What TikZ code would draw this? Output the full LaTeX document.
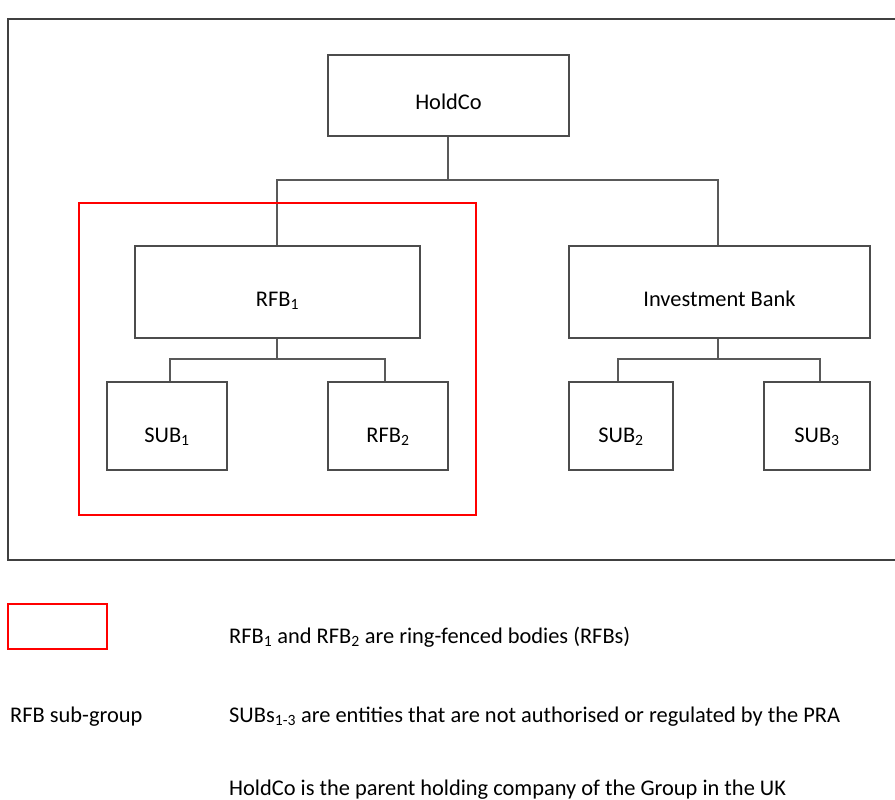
\documentclass[tikz,border=0pt]{standalone}
\usepackage{fontspec}
\setmainfont{Carlito}
\begin{document}
\begin{tikzpicture}[x=1pt,y=-1pt,
  box/.style={draw=black!70,line width=1.1pt,inner sep=0pt,text height=29pt,text depth=0pt,font=\fontsize{22.4}{26}\selectfont},
  sbox/.style={box,text height=33pt},
  conn/.style={draw=black!65,line width=1.1pt},
  lbl/.style={anchor=west,inner sep=0pt,font=\fontsize{22.4}{26}\selectfont}]
\useasboundingbox (0,0) rectangle (895,800);
% outer frame
\draw[draw=black!75,line width=1.5pt] (897,19) -- (8,19) -- (8,560) -- (897,560);
% nodes
\node[box,minimum width=241pt,minimum height=81pt] (hold) at (448.5,95.5) {HoldCo};
\node[box,minimum width=285pt,minimum height=92pt] (rfb1) at (277.5,292) {RFB\textsubscript{1}};
\node[box,minimum width=301pt,minimum height=92pt] (ib) at (719.5,292) {Investment Bank};
\node[sbox,minimum width=120pt,minimum height=88pt] (sub1) at (167,426) {SUB\textsubscript{1}};
\node[sbox,minimum width=120pt,minimum height=88pt] (rfb2) at (388,426) {RFB\textsubscript{2}};
\node[sbox,minimum width=104pt,minimum height=88pt] (sub2) at (621,426) {SUB\textsubscript{2}};
\node[sbox,minimum width=106pt,minimum height=88pt] (sub3) at (817,426) {SUB\textsubscript{3}};
% connectors
\coordinate (j1) at (448,180);
\draw[conn] (hold.south -| j1) -- (j1);
\draw[conn] (rfb1.north -| 277,0) |- (j1) -| (ib.north -| 718,0);
\coordinate (j2) at (277,359);
\draw[conn] (rfb1.south -| j2) -- (j2);
\draw[conn] (sub1.north -| 170,0) |- (j2) -| (rfb2.north -| 385,0);
\coordinate (j3) at (718,359);
\draw[conn] (ib.south -| j3) -- (j3);
\draw[conn] (sub2.north -| 618,0) |- (j3) -| (sub3.north -| 820,0);
% red sub-group box
\draw[red,line width=1.6pt] (79,203) rectangle (476,515);
% legend
\node[draw=red,line width=1.6pt,minimum width=99pt,minimum height=45pt,inner sep=0pt] (leg) at (57.5,626.5) {};
\node[lbl] (legt) at (10,717) {RFB sub-group};
\node[lbl] (t1) at (229,637) {RFB\textsubscript{1} and RFB\textsubscript{2} are ring-fenced bodies (RFBs)};
\node[lbl] (t2) at (229,717) {SUBs\textsubscript{1-3} are entities that are not authorised or regulated by the PRA};
\node[lbl] (t3) at (229,790) {HoldCo is the parent holding company of the Group in the UK};
\end{tikzpicture}
\end{document}
